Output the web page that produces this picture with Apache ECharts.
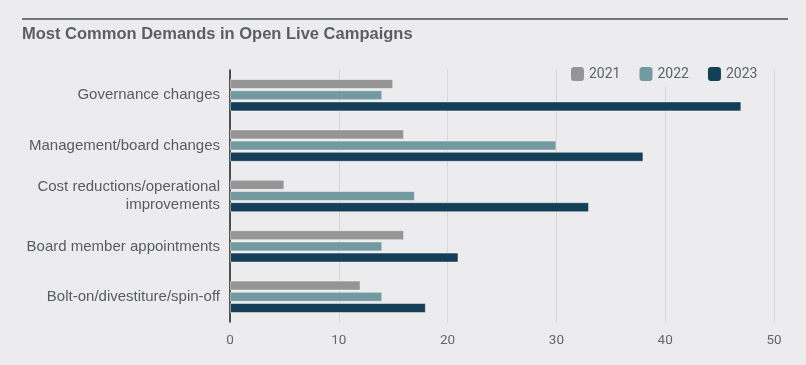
<!DOCTYPE html>
<html><head><meta charset="utf-8">
<script src="https://cdn.jsdelivr.net/npm/echarts@6/dist/echarts.min.js"></script>
<style>html,body{margin:0;padding:0;background:#ececef;}#c{width:806px;height:365px;}</style>
</head><body><div id="c"></div>
<script>
const categories = ['Governance changes','Management/board changes','Cost reductions/operational\nimprovements','Board member appointments','Bolt-on/divestiture/spin-off'];
const years = ['2021','2022','2023'];
const v2021 = [15,16,5,16,12];
const v2022 = [14,30,17,14,14];
const v2023 = [47,38,33,21,18];
const xTicks = [0,10,20,30,40,50];
const colors = ['#959595','#739aa0','#143f56'];
const chart = echarts.init(document.getElementById('c'));
const mk = (name, data, i) => ({
  name, type:'bar', data, barWidth:10, barGap:'12%',
  itemStyle:{color:colors[i], borderColor:'rgba(255,255,255,0.45)', borderWidth:1},
  emphasis:{disabled:true}, animation:false
});
chart.setOption({
  backgroundColor:'#ececef',
  animation:false,
  title:{text:'Most Common Demands in Open Live Campaigns', left:17, top:21,
    textStyle:{fontFamily:'Liberation Sans', fontWeight:'bold', fontSize:16.5, color:'#5b5f64'}},
  graphic:[{type:'rect', shape:{x:22,y:18,width:766,height:2}, style:{fill:'#717479'}}],
  legend:{data:years, left:566, top:62, itemWidth:13, itemHeight:14, itemGap:19,
    padding:[5,5,6,5], backgroundColor:'#ececef',
    textStyle:{fontFamily:'Roboto', fontSize:14, color:'#5f6368'}, itemStyle:{borderWidth:0}},
  grid:{left:230, right:32, top:70, bottom:43},
  xAxis:{type:'value', min:xTicks[0], max:xTicks[xTicks.length-1], interval:10,
    axisLine:{show:false}, axisTick:{show:false},
    splitLine:{lineStyle:{color:'#d6d7da', width:1}},
    axisLabel:{fontFamily:'Roboto', fontSize:13.5, color:'#64676c', margin:12}},
  yAxis:{type:'category', data:categories, inverse:true,
    axisLine:{lineStyle:{color:'#1e1e1e', width:1.5}}, axisTick:{show:false},
    axisLabel:{fontFamily:'Liberation Sans', fontSize:15, color:'#585c61', margin:10, lineHeight:18, align:'right'}},
  series:[mk(years[0],v2021,0), mk(years[1],v2022,1), mk(years[2],v2023,2)]
});
</script></body></html>
